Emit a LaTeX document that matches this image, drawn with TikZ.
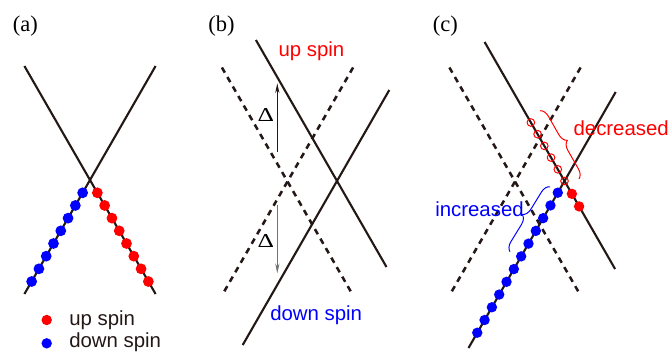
\documentclass[tikz,border=0pt]{standalone}
\usepackage{fontspec}
\setmainfont{Liberation Serif}
\setsansfont{Liberation Sans}
\usetikzlibrary{arrows.meta,decorations.pathreplacing}
\definecolor{ink}{RGB}{35,24,21}

\begin{document}
\begin{tikzpicture}[x=0.025cm, y=-0.025cm,
    band/.style={draw=ink, line width=1.5pt},
    dashband/.style={draw=ink, line width=1.8pt, dash pattern=on 4.2pt off 3.6pt},
    updot/.style={fill=red},
    downdot/.style={fill=blue},
    hole/.style={draw=red, line width=0.7pt},
    panel/.style={font=\fontsize{16}{18}\selectfont, anchor=base west, inner sep=0pt},
    spinlab/.style={font=\sffamily\fontsize{14.5}{16}\selectfont, anchor=base west, inner sep=0pt},
    gaplab/.style={font=\fontsize{14}{16}\selectfont, anchor=base west, inner sep=0pt},
    gap/.style={-{Stealth[length=7pt,width=3pt]}, line width=0.6pt},
    curly/.style={line width=0.7pt, decorate, decoration={brace, amplitude=0.225cm}}]

        \useasboundingbox (0,0) rectangle (670,351);

        % ==========================================
        % (a) sin campo
        % ==========================================
        \node[panel] (la) at (12.7,31.7) {(a)};
        \draw[band] (24.4,66) -- (155.6,294);
        \draw[band] (155.6,66) -- (24.4,294);
        \foreach \i in {0,...,7} {
            \fill[downdot] ({90-0.575*(12.8+12.67*\i)},{180+12.8+12.67*\i}) circle (0.135cm);
            \fill[updot]   ({90+0.575*(12.8+12.67*\i)},{180+12.8+12.67*\i}) circle (0.135cm);
        }

        % Leyenda
        \fill[updot]   (46.7,320) circle (0.13cm);
        \fill[downdot] (46.7,343.3) circle (0.13cm);
        \node[spinlab, text=ink] (legup)   at (69,325)   {up spin};
        \node[spinlab, text=ink] (legdown) at (69,347.7) {down spin};

        % ==========================================
        % (b) bandas desplazadas
        % ==========================================
        \node[panel] (lb) at (208,31.7) {(b)};
        \draw[dashband] (221.9,67.5) -- (353.1,295.5);
        \draw[dashband] (353.1,67.5) -- (221.9,295.5);
        \draw[band] (255.9,40) -- (386.5,267);
        \draw[band] (389.3,90) -- (242.7,345);
        \node[spinlab, text=red]  (bup)   at (278.3,56.7) {up spin};
        \node[spinlab, text=blue] (bdown) at (270,320)    {down spin};

        % Desplazamientos
        \coordinate (gupfrom) at (277.3,151.7);
        \coordinate (gupto)   at (277.3,83.3);
        \coordinate (gdnfrom) at (277.3,205);
        \coordinate (gdnto)   at (277.3,273.3);
        \draw[gap, ink] (gupfrom) -- (gupto);
        \draw[gap, black!55] (gdnfrom) -- (gdnto);
        \node[gaplab] (dup) at (257.3,121.7) {\scalebox{1.3}[1]{Δ}};
        \node[gaplab] (ddn) at (257.3,247.3) {\scalebox{1.3}[1]{Δ}};

        % ==========================================
        % (c) ocupacion
        % ==========================================
        \node[panel] (lc) at (432.7,31.7) {(c)};
        \draw[dashband] (449.4,67.5) -- (580.6,295.5);
        \draw[dashband] (580.6,67.5) -- (449.4,295.5);
        \draw[band] (484.6,42) -- (615.1,269);
        \draw[band] (615.7,92) -- (468.5,348);
        \foreach \i in {0,...,11}
            \fill[downdot] ({564.5-0.575*(11.7+12.73*\i)},{181+11.7+12.73*\i}) circle (0.13cm);
        \foreach \i in {0,1}
            \fill[updot] ({564.5+0.575*(12.8+12.6*\i)},{181+12.8+12.6*\i}) circle (0.13cm);
        \foreach \i in {0,...,5}
            \draw[hole] ({564.5-0.575*11.7*\i},{181-11.7*\i}) circle (0.095cm);

        % Llaves
        \draw[curly, red]  (540,110.7) -- (579,179);
        \draw[curly, blue] (510,251.7) -- (550,186.7);
        \node[spinlab, text=red]  (dec) at (573.3,135)   {decreased};
        \node[spinlab, text=blue] (inc) at (435,216.7)   {increased};

\end{tikzpicture}
\end{document}
